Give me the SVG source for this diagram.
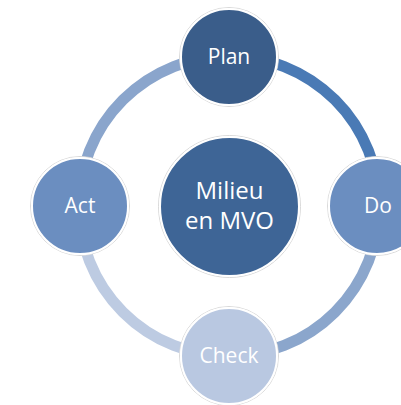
<svg xmlns="http://www.w3.org/2000/svg" width="401" height="405" viewBox="0 0 401 405">
<style>
.arc{fill:none;stroke-width:11}
.halo{fill:#ffffff;stroke:#d9d9d9;stroke-width:1}
.node{stroke:#ffffff;stroke-width:2}
.lbl{font-family:"Open Sans","Noto Sans","Liberation Sans",sans-serif;font-size:21px;fill:#ffffff;text-anchor:middle}
.big{font-size:24px}
</style>
<rect width="401" height="405" fill="#ffffff"/>
<g id="connectors">
<path class="arc" stroke="#4a7ab5" d="M229,56 A150,150 0 0 1 379,206"/>
<path class="arc" stroke="#8ba6cc" d="M379,206 A150,150 0 0 1 229,356"/>
<path class="arc" stroke="#bdcbe2" d="M229,356 A150,150 0 0 1 79,206"/>
<path class="arc" stroke="#8aa5cc" d="M79,206 A150,150 0 0 1 229,56"/>
</g>
<g id="center">
<circle class="halo" cx="229.5" cy="206.5" r="71"/>
<circle class="node" cx="229.5" cy="206.5" r="69.5" fill="#3e6596"/>
<text class="lbl big" x="229.5" y="199">Milieu</text>
<text class="lbl big" x="229.5" y="229">en MVO</text>
</g>
<g id="plan">
<circle class="halo" cx="229" cy="57" r="49.5"/>
<circle class="node" cx="229" cy="57" r="48" fill="#3a5d8a"/>
<text class="lbl" x="229" y="64">Plan</text>
</g>
<g id="do">
<circle class="halo" cx="377" cy="206" r="49.5"/>
<circle class="node" cx="377" cy="206" r="48" fill="#6b8ec0"/>
<text class="lbl" x="378" y="213">Do</text>
</g>
<g id="check">
<circle class="halo" cx="229" cy="356" r="49.5"/>
<circle class="node" cx="229" cy="356" r="48" fill="#b9c8e1"/>
<text class="lbl" x="229" y="363">Check</text>
</g>
<g id="act">
<circle class="halo" cx="80" cy="206" r="49.5"/>
<circle class="node" cx="80" cy="206" r="48" fill="#6b8ec0"/>
<text class="lbl" x="80" y="213">Act</text>
</g>
</svg>
